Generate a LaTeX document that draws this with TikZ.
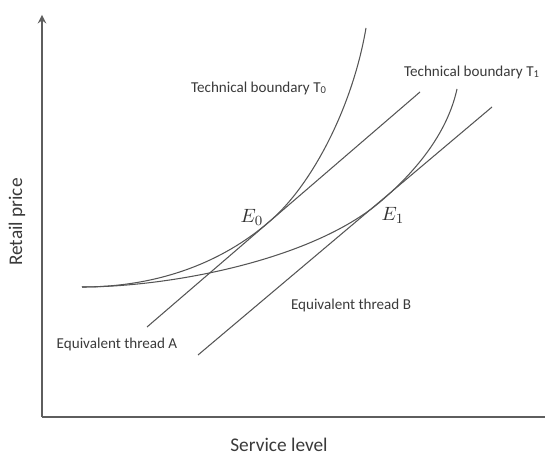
\documentclass[tikz,border=0pt]{standalone}
\usepackage{fontspec}
\setmainfont{Carlito}
\usepackage{tikz}
\usetikzlibrary{positioning,arrows}
\definecolor{axisgray}{HTML}{5E5E5E}
\definecolor{curvegray}{HTML}{555555}
\definecolor{labelgray}{HTML}{3A3A3A}

\begin{document}
\begin{tikzpicture}[
      x=0.02cm, y=-0.02cm,
      axis/.style={
        draw=axisgray,
        line width=1.1pt,
      },
      curve/.style={
        draw=curvegray,
        line width=0.6pt,
      },
      lbl/.style={
        text=labelgray,
        inner sep=0pt,
        font=\fontsize{8.6}{10}\selectfont,
      },
      big/.style={
        text=labelgray,
        inner sep=0pt,
        font=\fontsize{11}{13}\selectfont,
      },
      pt/.style={
        text=black!80,
        inner sep=0pt,
        font=\fontsize{11}{13}\selectfont,
      }]
      \useasboundingbox (0,0) rectangle (545,456);
      \coordinate (o) at (42,417);
      \coordinate (ytip) at (42,15);
      \coordinate (xend) at (545,417);
      \coordinate (start) at (82,287);
      \coordinate (p0) at (270,221);
      \coordinate (p1) at (380,202);
      \coordinate (top0) at (366,28);
      \coordinate (top1) at (457,89);
      \coordinate (a1) at (147,327);
      \coordinate (a2) at (420,92);
      \coordinate (b1) at (198,355);
      \coordinate (b2) at (492,107);
      \draw[axis, ->, >=stealth] (o) -- (ytip);
      \draw[axis] (o) -- (xend);
      \draw[curve] (start) .. controls (168,287) and (230,256) .. (p0)
        .. controls (310,187) and (352,110) .. (top0);
      \draw[curve] (start) .. controls (168,287) and (310,261) .. (p1)
        .. controls (420,168) and (448,130) .. (top1);
      \draw[curve] (a1) -- (a2);
      \draw[curve] (b1) -- (b2);
      \node[lbl] (t0) at (259,88) {Technical boundary T\textsubscript{0}};
      \node[lbl] (t1) at (472,72) {Technical boundary T\textsubscript{1}};
      \node[lbl] (tha) at (117,344) {Equivalent thread A};
      \node[lbl] (thb) at (351,305) {Equivalent thread B};
      \node[pt] (e0) at (252,217) {$E_0$};
      \node[pt] (e1) at (393,215) {$E_1$};
      \node[big, rotate=90] (ylab) at (17,222) {Retail price};
      \node[big] (xlab) at (279,445) {Service level};
    \end{tikzpicture}
\end{document}
